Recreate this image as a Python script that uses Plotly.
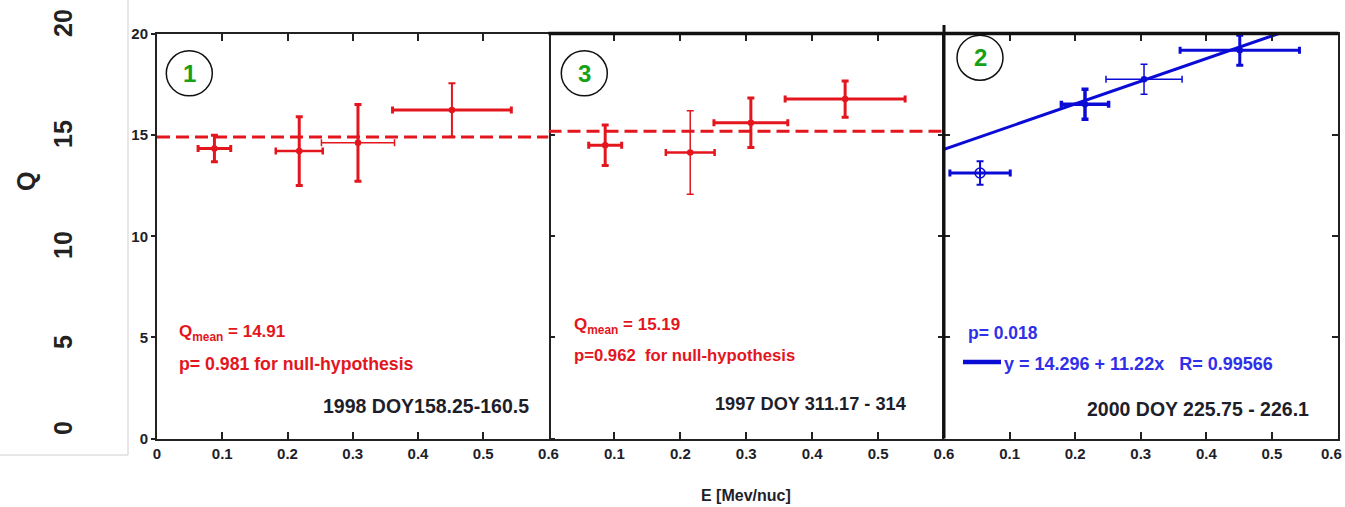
import plotly.graph_objects as go

# ---------------- data ----------------
# Panel 1: 1998 DOY158.25-160.5
p1_e = [0.088, 0.218, 0.308, 0.452]
p1_q = [14.34, 14.21, 14.62, 16.24]
p1_de = [0.025, 0.036, 0.056, 0.091]
p1_dq = [0.66, 1.70, 1.90, 1.32]
p1_qmean = 14.91

# Panel 2: 1997 DOY 311.17 - 314
p2_e = [0.086, 0.215, 0.307, 0.450]
p2_q = [14.50, 14.14, 15.61, 16.78]
p2_de = [0.025, 0.037, 0.056, 0.091]
p2_dq = [1.00, 2.06, 1.22, 0.90]
p2_qmean = 15.19

# Panel 3: 2000 DOY 225.75 - 226.1
p3_e = [0.055, 0.215, 0.305, 0.451]
p3_q = [13.13, 16.53, 17.76, 19.20]
p3_de = [0.046, 0.036, 0.058, 0.091]
p3_dq = [0.58, 0.74, 0.74, 0.74]
fit_intercept = 14.296
fit_slope = 11.22

x_ticks_first = [0, 0.1, 0.2, 0.3, 0.4, 0.5, 0.6]
x_ticks_rest = [0.1, 0.2, 0.3, 0.4, 0.5, 0.6]
y_ticks = [0, 5, 10, 15, 20]
outer_tick_labels = ["20", "15", "10", "5", "0"]

# ---------------- styles ----------------
W, H = 1345, 507
RED = "#e3161e"
BLUE = "#0b0bd6"
TXTBLUE = "#3030e8"
GREEN = "#17a117"
DARK = "#1e1e2a"
FONT = "Liberation Sans, Arial, sans-serif"

def px(x):
    return x / W

def py(y):
    return 1 - y / H

panel_px = [157, 548.5, 944, 1337.5]
ydom = [py(438.5), py(34)]

# thickness (x-bar, y-bar) per point
p1_thk = [(3, 3), (2.5, 3), (1.5, 3), (3, 2)]
p2_thk = [(3, 3), (2.5, 1.5), (3, 3), (3, 3)]
p3_thk = [(3, 2), (3.5, 3.5), (1.5, 1.5), (3, 3)]

fig = go.Figure()

panels = [
    (p1_e, p1_q, p1_de, p1_dq, p1_thk, RED, "x", "y"),
    (p2_e, p2_q, p2_de, p2_dq, p2_thk, RED, "x2", "y2"),
    (p3_e, p3_q, p3_de, p3_dq, p3_thk, BLUE, "x3", "y3"),
]

# mean lines
for qm, xa, ya in [(p1_qmean, "x", "y"), (p2_qmean, "x2", "y2")]:
    fig.add_trace(go.Scatter(
        x=[0, 0.6], y=[qm, qm], mode="lines", xaxis=xa, yaxis=ya,
        line=dict(color=RED, width=3, dash="13px,6px"), hoverinfo="skip"))

# fit line
fit_x = [0, 0.6]
fit_y = [fit_intercept + fit_slope * v for v in fit_x]
fig.add_trace(go.Scatter(
    x=fit_x, y=fit_y, mode="lines", xaxis="x3", yaxis="y3",
    line=dict(color=BLUE, width=3), hoverinfo="skip"))

for (es, qs, des, dqs, thk, col, xa, ya) in panels:
    for k in range(len(es)):
        sym = "circle"
        msize = 5
        if xa == "x3" and k == 0:
            sym = "circle-cross-open"
            msize = 10
        fig.add_trace(go.Scatter(
            x=[es[k]], y=[qs[k]], mode="markers", xaxis=xa, yaxis=ya,
            marker=dict(color=col, size=msize, symbol=sym,
                        line=dict(color=col, width=1.5)),
            error_x=dict(type="data", array=[des[k]], color=col,
                         thickness=thk[k][0], width=3.5),
            error_y=dict(type="data", array=[dqs[k]], color=col,
                         thickness=thk[k][1], width=3.5),
        ))

tickfont = dict(family=FONT, size=15, color=DARK, weight="bold")

common_x = dict(range=[0, 0.6], showgrid=False, zeroline=False,
                showline=True, linecolor="#222", linewidth=2, mirror="ticks",
                ticks="inside", ticklen=7, tickwidth=2, tickcolor="#222",
                tickfont=tickfont)
common_y = dict(range=[0, 20], showgrid=False, zeroline=False,
                linecolor="#222", linewidth=2, mirror="ticks",
                tickwidth=2, tickcolor="#222", tickvals=y_ticks,
                tickfont=tickfont, domain=ydom)

fig.update_layout(
    width=W, height=H,
    margin=dict(l=0, r=0, t=0, b=0, autoexpand=False),
    paper_bgcolor="white", plot_bgcolor="white",
    showlegend=False,
    xaxis=dict(common_x, domain=[px(panel_px[0]), px(panel_px[1])],
               anchor="y", tickvals=x_ticks_first),
    xaxis2=dict(common_x, domain=[px(panel_px[1]), px(panel_px[2])],
                anchor="y2", tickvals=x_ticks_rest),
    xaxis3=dict(common_x, domain=[px(panel_px[2]), px(panel_px[3])],
                anchor="y3", tickvals=x_ticks_rest),
    yaxis=dict(common_y, anchor="x", ticks="outside", ticklen=4,
               showline=True),
    yaxis2=dict(common_y, anchor="x2", ticks="inside", ticklen=6,
                showline=False, showticklabels=False),
    yaxis3=dict(common_y, anchor="x3", ticks="inside", ticklen=6,
                showline=True, showticklabels=False),
)

shapes = []
# thick frame pieces
shapes.append(dict(type="line", xref="paper", yref="paper",
                   x0=px(panel_px[1]), x1=px(panel_px[3] + 1),
                   y0=py(33.5), y1=py(33.5),
                   line=dict(color="#111", width=3.5)))
shapes.append(dict(type="line", xref="paper", yref="paper",
                   x0=px(panel_px[2]), x1=px(panel_px[2]),
                   y0=py(438.5), y1=py(25),
                   line=dict(color="#111", width=3)))
# left box border
shapes.append(dict(type="line", xref="paper", yref="paper",
                   x0=px(128), x1=px(128), y0=py(0), y1=py(455),
                   line=dict(color="#cfcfcf", width=1)))
shapes.append(dict(type="line", xref="paper", yref="paper",
                   x0=px(0), x1=px(128), y0=py(455), y1=py(455),
                   line=dict(color="#cfcfcf", width=1)))
# numbered circles
circle_pos = [(189.3, 73.3), (584.3, 73.3), (980, 57.7)]
for (cx, cy) in circle_pos:
    shapes.append(dict(type="circle", xref="paper", yref="paper",
                       xsizemode="pixel", ysizemode="pixel",
                       xanchor=px(cx), yanchor=py(cy),
                       x0=-23, x1=23, y0=-22.5, y1=22.5,
                       line=dict(color="#111", width=1.5)))
# legend line for fit
shapes.append(dict(type="line", xref="paper", yref="paper",
                   x0=px(963), x1=px(1001), y0=py(362), y1=py(362),
                   line=dict(color=BLUE, width=4.5)))
fig.update_layout(shapes=shapes)

ann = []

def text(x, y, s, color, size, xanchor="left", bold=True, angle=0):
    ann.append(dict(x=px(x), y=py(y), xref="paper", yref="paper", text=s,
                    showarrow=False, xanchor=xanchor, yanchor="middle",
                    textangle=angle,
                    font=dict(family=FONT, size=size, color=color,
                              weight="bold" if bold else "normal")))

# circle numbers
for (cx, cy), lab in zip(circle_pos, ["1", "3", "2"]):
    text(cx, cy, lab, GREEN, 24, xanchor="center")

# panel 1 texts
text(177, 333, "Q<sub>mean</sub> = 14.91", RED, 17)
text(177, 364, "p= 0.981 for null-hypothesis", RED, 17.7)
text(531, 406, "1998 DOY158.25-160.5", DARK, 19.5, xanchor="right")
# panel 2 texts
text(572, 326, "Q<sub>mean</sub> = 15.19", RED, 17)
text(572, 355, "p=0.962\u00a0 for null-hypothesis", RED, 16.7)
text(909, 404, "1997 DOY 311.17 - 314", DARK, 18.2, xanchor="right")
# panel 3 texts
text(966, 333, "p= 0.018", TXTBLUE, 17.5)
text(1002, 364, "y = 14.296 + 11.22x\u00a0\u00a0 R= 0.99566", TXTBLUE, 18)
text(1311, 409, "2000 DOY 225.75 - 226.1", DARK, 19.5, xanchor="right")

# x axis title
text(746, 495, "E [Mev/nuc]", DARK, 16, xanchor="center")

# last tick label of the right panel, kept inside the page
ann.append(dict(x=1.0, y=py(453), xref="paper", yref="paper", text="0.6",
                showarrow=False, xanchor="right", yanchor="middle",
                xshift=-1, font=tickfont))

# outer left labels
outer_y = [23, 134, 245, 342, 428]
for lab, yy in zip(outer_tick_labels, outer_y):
    text(63, yy, lab, "#222", 25, xanchor="center", angle=-90)
text(26, 182, "Q", "#222", 25, xanchor="center", angle=-90)

fig.update_layout(annotations=ann)

fig.write_html("out.html")
